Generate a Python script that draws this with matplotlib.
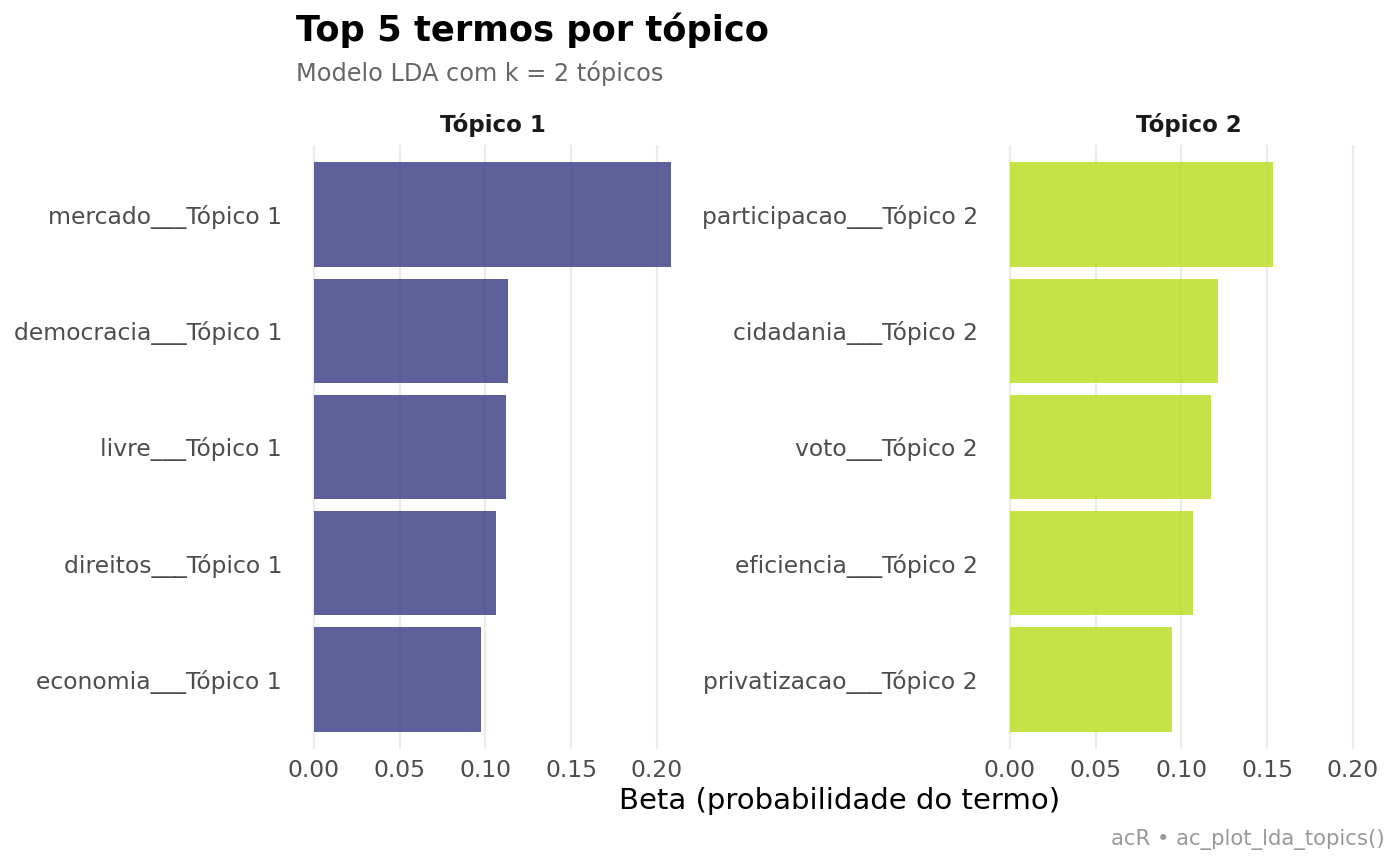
import matplotlib
matplotlib.use("Agg")
import matplotlib.pyplot as plt

# data
topico1_terms = ["mercado", "democracia", "livre", "direitos", "economia"]
topico1_beta = [0.2084, 0.1131, 0.1120, 0.1062, 0.0974]
topico2_terms = ["participacao", "cidadania", "voto", "eficiencia", "privatizacao"]
topico2_beta = [0.1534, 0.1214, 0.1173, 0.1068, 0.0945]
topic_names = ["Tópico 1", "Tópico 2"]
topic_colors = ["#414487", "#BBDF27"]
x_ticks = [0.00, 0.05, 0.10, 0.15, 0.20]

W, H = 1400, 866
fig = plt.figure(figsize=(W / 100, H / 100), dpi=100)
plt.rcParams['font.family'] = ['DejaVu Sans']


def px_axes(x0, y0, x1, y1):
    return fig.add_axes([x0 / W, 1 - y1 / H, (x1 - x0) / W, (y1 - y0) / H])


vmax = max(topico1_beta + topico2_beta)
xlim = (-0.05 * vmax, vmax * 1.05)

panels = [(296, 689), (992, 1385)]
data = [(topico1_terms, topico1_beta), (topico2_terms, topico2_beta)]

for (x0, x1), (terms, beta), name, col in zip(panels, data, topic_names, topic_colors):
    ax = px_axes(x0, 145, x1, 749)
    n = len(terms)
    ypos = list(range(n - 1, -1, -1))
    ax.barh(ypos, beta, height=0.9, color=col, alpha=0.85, zorder=2)
    ax.set_xlim(*xlim)
    ax.set_ylim(-0.6, n - 0.4)
    ax.set_xticks(x_ticks)
    ax.set_xticklabels([f"{t:.2f}" for t in x_ticks])
    ax.set_yticks(ypos)
    ax.set_yticklabels([f"{t}___{name}" for t in terms])
    ax.grid(axis='x', color='#EBEBEB', linewidth=1.6, zorder=0)
    ax.set_axisbelow(True)
    for s in ax.spines.values():
        s.set_visible(False)
    ax.tick_params(length=0, labelsize=16.9, labelcolor='#4D4D4D')
    ax.tick_params(axis='y', pad=10)
    ax.tick_params(axis='x', pad=7)
    fig.text((x0 + x1) / 2 / W, 1 - 125 / H, name, ha='center', va='center',
             fontsize=16.5, fontweight='bold', color='#1A1A1A')

fig.text(296 / W, 1 - 30 / H, "Top 5 termos por tópico", ha='left', va='center',
         fontsize=25.4, fontweight='bold', color='black')
fig.text(296 / W, 1 - 73 / H, "Modelo LDA com k = 2 tópicos", ha='left', va='center',
         fontsize=17.3, color='#666666')
fig.text(840 / W, 1 - 801 / H, "Beta (probabilidade do termo)", ha='center', va='center',
         fontsize=21, color='black')
fig.text(1385 / W, 1 - 840 / H, "acR • ac_plot_lda_topics()", ha='right', va='center',
         fontsize=15.3, color='#999999')

fig.savefig("out.png", dpi=100, facecolor='white')
